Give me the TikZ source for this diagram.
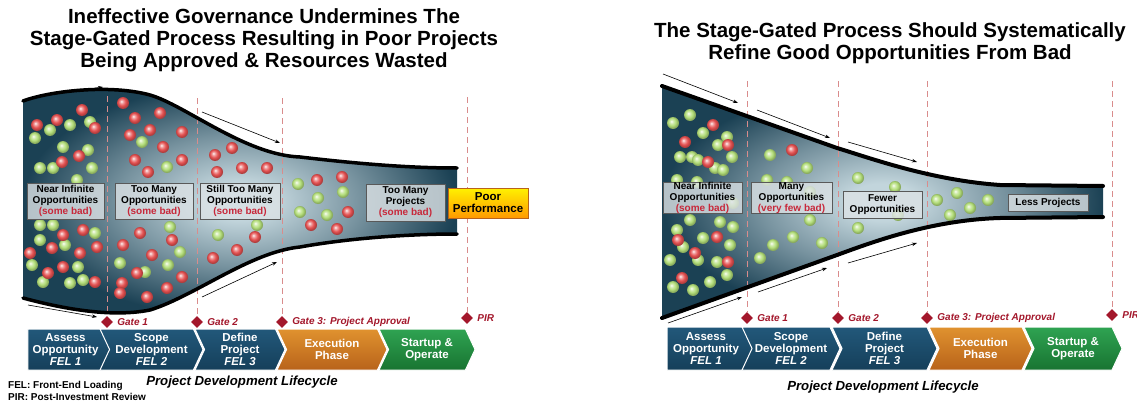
\documentclass[tikz,border=0pt]{standalone}
\usepackage{fontspec}
\setmainfont{Liberation Sans}
\usetikzlibrary{shapes.geometric,shapes.symbols,arrows.meta}

\definecolor{fundark}{HTML}{1B4154}
\definecolor{funlight}{HTML}{C2D5DC}
\definecolor{badred}{HTML}{C8283A}
\definecolor{gatered}{HTML}{A3172B}
\definecolor{gatepink}{HTML}{D98C8C}
\definecolor{felblue}{HTML}{22587A}
\definecolor{feldeep}{HTML}{153F5A}
\definecolor{execorange}{HTML}{E0922F}
\definecolor{execdeep}{HTML}{B8631A}
\definecolor{opgreen}{HTML}{2FA352}
\definecolor{opdeep}{HTML}{187431}
\definecolor{ballred}{HTML}{E45050}
\definecolor{ballgreen}{HTML}{B2DD78}
\definecolor{boxgrey}{HTML}{DCE2E5}

\pgfdeclareradialshading{funnelglow}{\pgfpoint{0bp}{0bp}}{color(0bp)=(funlight); color(4bp)=(funlight); color(14bp)=(funlight!55!fundark); color(25bp)=(fundark); color(50bp)=(fundark)}
\pgfdeclareradialshading{greenorb}{\pgfpoint{-7bp}{7bp}}{color(0bp)=(white); color(5bp)=(ballgreen!45!white); color(16bp)=(ballgreen); color(25bp)=(ballgreen!75!black); color(50bp)=(ballgreen!75!black)}
\pgfdeclareradialshading{redorb}{\pgfpoint{-7bp}{7bp}}{color(0bp)=(white); color(5bp)=(ballred!45!white); color(16bp)=(ballred); color(25bp)=(ballred!75!black); color(50bp)=(ballred!75!black)}

\tikzset{
  headline/.style={align=center, font=\fontsize{20.5}{22}\selectfont\bfseries},
  funnelrim/.style={line width=3.5pt, line cap=round},
  gatedash/.style={draw=gatepink, dash pattern=on 6pt off 4pt, line width=0.8pt},
  gatemark/.style={diamond, fill=gatered, minimum size=12pt, inner sep=0pt},
  gatetext/.style={anchor=west, xshift=3pt, inner sep=1pt, text=gatered, font=\fontsize{10}{11}\selectfont\bfseries\itshape},
  flowarrow/.style={-{Stealth[length=5pt,width=3.5pt]}, line width=0.6pt},
  stagebox/.style={draw=gray!70!black, fill=boxgrey, fill opacity=0.8, text opacity=1, inner sep=0pt, align=center, font=\fontsize{10}{11}\selectfont\bfseries},
  phase/.style={signal, signal to=east, signal from=west, signal pointer angle=130, inner sep=0pt, text=white, align=center, draw=white, line width=1pt, font=\fontsize{11.5}{12}\selectfont\bfseries},
  felphase/.style={phase, top color=felblue, bottom color=feldeep},
  execphase/.style={phase, top color=execorange, bottom color=execdeep},
  runphase/.style={phase, top color=opgreen, bottom color=opdeep},
  cyclelabel/.style={font=\fontsize{13.2}{14}\selectfont\bfseries\itshape},
  note/.style={anchor=west, inner sep=0pt, font=\fontsize{10}{11}\selectfont\bfseries},
  redball/.style={shading=redorb},
  greenball/.style={shading=greenorb}
}

\begin{document}
\begin{tikzpicture}[x=1pt,y=-1pt]
\useasboundingbox (0,0) rectangle (1137,404);

% titles
\node[headline] (lefttitle) at (264,40) {Ineffective Governance Undermines The\\Stage-Gated Process Resulting in Poor Projects\\Being Approved \& Resources Wasted};
\node[headline] (righttitle) at (890,43) {The Stage-Gated Process Should Systematically\\Refine Good Opportunities From Bad};

% funnels
\shade[shading=funnelglow] (23,101) .. controls (50,91) and (110,84) .. (150,95)
    .. controls (185,105) and (245,155) .. (300,157) .. controls (360,164) and (410,168) .. (457,168)
    -- (457,234) .. controls (410,234) and (350,238) .. (300,247)
    .. controls (250,252) and (195,296) .. (150,310) .. controls (110,318) and (60,308) .. (23,298) -- cycle;
\shade[shading=funnelglow] (662,86) -- (837,148) .. controls (870,158) and (930,180) .. (1000,185) -- (1103,186)
    -- (1103,217) -- (1000,218) .. controls (930,220) and (870,243) .. (837,255) -- (662,318) -- cycle;

% gates
\node[gatemark] (lg1) at (107,322) {};
\node[gatemark] (lg2) at (197,322) {};
\node[gatemark] (lg3) at (282,322) {};
\node[gatemark] (lpir) at (467,318) {};
\node[gatemark] (rg1) at (747,318) {};
\node[gatemark] (rg2) at (838,318) {};
\node[gatemark] (rg3) at (927,318) {};
\node[gatemark] (rpir) at (1112,315) {};
\coordinate (lg1top) at (107,96);
\coordinate (lg2top) at (197,98);
\coordinate (lg3top) at (282,98);
\coordinate (lpirtop) at (467,97);
\coordinate (rg1top) at (747,81);
\coordinate (rg2top) at (838,81);
\coordinate (rg3top) at (927,81);
\coordinate (rpirtop) at (1112,81);
\foreach \g in {lg1,lg2,lg3,lpir,rg1,rg2,rg3,rpir} {
    \draw[gatedash] (\g top) -- (\g.north);
}

% opportunities
\foreach \bx/\by in {35/138,50/130,70/125,90/122,63/147,88/150,40/168,53/168,92/168,77/180,40/225,53/225,95/233,40/240,65/245,32/265,78/267,43/282,70/283,83/280,142/142,167/167,170/227,180/252,120/263,168/265,145/272,218/235,257/225,298/184,318/198,343/192,300/212,327/215} {
    \shade[greenball] (\bx,\by) circle (6pt);
}
\foreach \bx/\by in {82/110,37/125,57/120,95/128,79/156,62/162,83/230,63/235,30/253,52/248,80/253,97/247,63/267,48/273,95/282,123/103,135/118,160/113,150/130,130/135,182/132,163/147,135/160,182/160,148/172,140/233,172/240,123/245,152/255,182/277,137/273,122/283,167/288,147/297,120/293,215/155,232/148,217/172,242/168,267/168,255/237,237/250,213/258,317/180,342/177,348/212,311/225,337/229} {
    \shade[redball] (\bx,\by) circle (6pt);
}
\foreach \bx/\by in {673/123,690/115,703/133,727/137,718/145,680/157,692/157,698/160,732/157,715/168,723/170,677/180,697/182,733/203,690/220,720/222,733/227,677/230,703/238,683/247,730/245,670/260,698/260,717/262,673/287,693/290,710/282,727/275,770/155,807/168,767/180,787/182,810/192,810/220,793/237,773/245,822/243,760/258,858/178,858/228,895/187,898/215,937/200,957/193,950/215,970/208,988/200} {
    \shade[greenball] (\bx,\by) circle (6pt);
}
\foreach \bx/\by in {713/125,685/142,728/145,708/162,678/240,717/237,695/253,728/262,682/278,792/150} {
    \shade[redball] (\bx,\by) circle (6pt);
}

% rims
\draw[funnelrim] (23,101) .. controls (50,91) and (110,84) .. (150,95)
    .. controls (185,105) and (245,155) .. (300,157) .. controls (360,164) and (410,168) .. (457,168);
\draw[funnelrim] (457,234) .. controls (410,234) and (350,238) .. (300,247)
    .. controls (250,252) and (195,296) .. (150,310) .. controls (110,318) and (60,308) .. (23,298);
\draw[funnelrim, line width=4pt] (662,86) -- (837,148) .. controls (870,158) and (930,180) .. (1000,185) -- (1103,186);
\draw[funnelrim, line width=4pt] (1103,217) -- (1000,218) .. controls (930,220) and (870,243) .. (837,255) -- (662,318);

% stage boxes
\node[stagebox, minimum width=77pt, minimum height=36pt] (lnear) at (65.5,201) {Near Infinite\\Opportunities\\\textcolor{badred}{(some bad)}};
\node[stagebox, minimum width=78pt, minimum height=36pt] (lmany) at (154,201) {Too Many\\Opportunities\\\textcolor{badred}{(some bad)}};
\node[stagebox, minimum width=80pt, minimum height=36pt] (lstill) at (240,201) {Still Too Many\\Opportunities\\\textcolor{badred}{(some bad)}};
\node[stagebox, minimum width=79pt, minimum height=37pt] (lproj) at (405.5,202.5) {Too Many\\Projects\\\textcolor{badred}{(some bad)}};
\node[draw=execdeep, top color=yellow!90!orange, bottom color=orange!80!yellow, minimum width=80pt, minimum height=30pt, inner sep=0pt, align=center, font=\fontsize{11.5}{12}\selectfont\bfseries] (poor) at (488,203) {Poor\\Performance};
\node[stagebox, minimum width=79pt, minimum height=31pt] (rnear) at (702.5,197.5) {Near Infinite\\Opportunities\\\textcolor{badred}{(some bad)}};
\node[stagebox, minimum width=81pt, minimum height=30pt] (rmany) at (791.5,198) {Many\\Opportunities\\\textcolor{badred}{(very few bad)}};
\node[stagebox, minimum width=79pt, minimum height=27pt] (rfewer) at (882.5,204.5) {Fewer\\Opportunities};
\node[stagebox, minimum width=80pt, minimum height=17pt] (rless) at (1048,202.5) {Less Projects};

% flow arrows
\coordinate (la1) at (33,97);   \coordinate (la2) at (103,87);
\coordinate (la3) at (202,112); \coordinate (la4) at (280,143);
\coordinate (la5) at (28,305);  \coordinate (la6) at (97,317);
\coordinate (la7) at (202,297); \coordinate (la8) at (277,262);
\draw[flowarrow] (la1) -- (la2);
\draw[flowarrow] (la3) -- (la4);
\draw[flowarrow] (la5) -- (la6);
\draw[flowarrow] (la7) -- (la8);
\coordinate (ra1) at (663,74);   \coordinate (ra2) at (738,103);
\coordinate (ra3) at (757,110);  \coordinate (ra4) at (830,138);
\coordinate (ra5) at (848,142);  \coordinate (ra6) at (917,162);
\coordinate (ra7) at (668,323);  \coordinate (ra8) at (742,297);
\coordinate (ra9) at (758,292);  \coordinate (ra10) at (827,268);
\coordinate (ra11) at (848,263); \coordinate (ra12) at (917,243);
\draw[flowarrow] (ra1) -- (ra2);
\draw[flowarrow] (ra3) -- (ra4);
\draw[flowarrow] (ra5) -- (ra6);
\draw[flowarrow] (ra7) -- (ra8);
\draw[flowarrow] (ra9) -- (ra10);
\draw[flowarrow] (ra11) -- (ra12);

% gate labels
\node[gatetext] (lg1txt) at (lg1.east) {Gate 1};
\node[gatetext] (lg2txt) at (lg2.east) {Gate 2};
\node[gatetext] (lg3txt) at (lg3.east) {Gate 3: Project Approval};
\node[gatetext] (lpirtxt) at (lpir.east) {PIR};
\node[gatetext] (rg1txt) at (rg1.east) {Gate 1};
\node[gatetext] (rg2txt) at (rg2.east) {Gate 2};
\node[gatetext] (rg3txt) at (rg3.east) {Gate 3: Project Approval};
\node[gatetext] (rpirtxt) at (rpir.east) {PIR};

% lifecycle phases
\node[felphase, signal from=nowhere, minimum width=85pt, minimum height=41pt] (lfel1) at (65.5,349.5) {Assess\\Opportunity\\\textit{FEL 1}};
\node[felphase, minimum width=103pt, minimum height=41pt] (lfel2) at (151.5,349.5) {Scope\\Development\\\textit{FEL 2}};
\node[felphase, minimum width=90pt, minimum height=41pt] (lfel3) at (240,349.5) {Define\\Project\\\textit{FEL 3}};
\node[execphase, minimum width=110pt, minimum height=41pt] (lexec) at (332,349.5) {Execution\\Phase};
\node[runphase, minimum width=96pt, minimum height=41pt] (lrun) at (427,349.5) {Startup \&\\Operate};
\node[felphase, signal from=nowhere, minimum width=88pt, minimum height=43pt] (rfel1) at (706,348.5) {Assess\\Opportunity\\\textit{FEL 1}};
\node[felphase, minimum width=98pt, minimum height=43pt] (rfel2) at (791,348.5) {Scope\\Development\\\textit{FEL 2}};
\node[felphase, minimum width=105pt, minimum height=43pt] (rfel3) at (884.5,348.5) {Define\\Project\\\textit{FEL 3}};
\node[execphase, minimum width=103pt, minimum height=43pt] (rexec) at (980.5,348.5) {Execution\\Phase};
\node[runphase, minimum width=98pt, minimum height=43pt] (rrun) at (1073,348.5) {Startup \&\\Operate};

\node[cyclelabel] (lcycle) at (242,382) {Project Development Lifecycle};
\node[cyclelabel] (rcycle) at (883,387) {Project Development Lifecycle};
\node[note] (felnote) at (8,386) {FEL: Front-End Loading};
\node[note] (pirnote) at (8,397) {PIR: Post-Investment Review};
\end{tikzpicture}
\end{document}
